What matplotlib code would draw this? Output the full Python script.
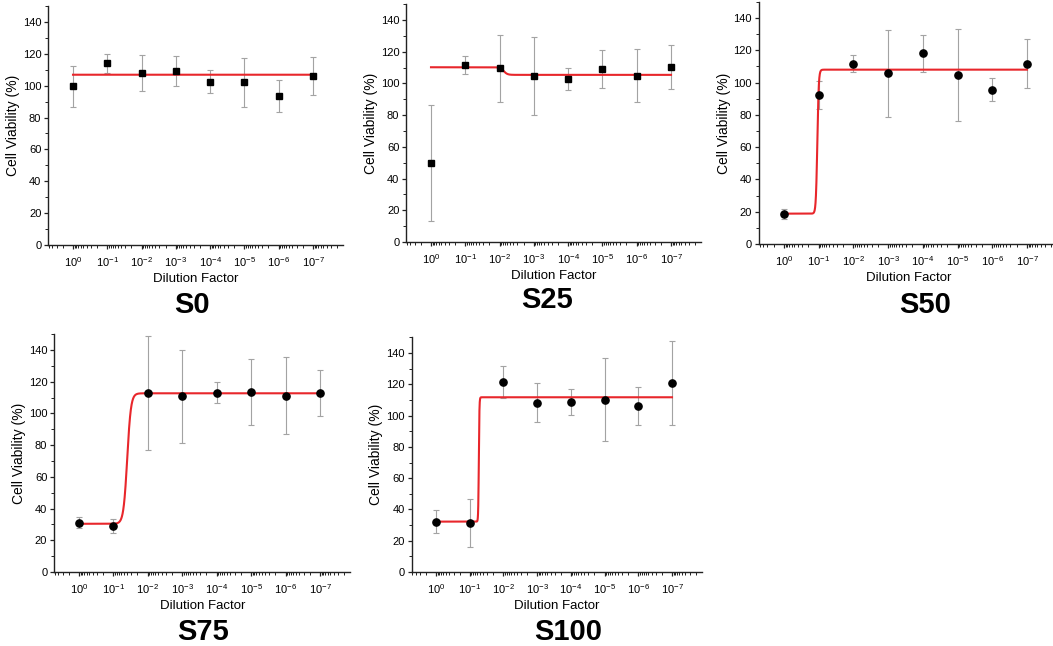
import numpy as np
import matplotlib
matplotlib.use("Agg")
import matplotlib.pyplot as plt
from matplotlib.ticker import FixedLocator, FixedFormatter, LogLocator, MultipleLocator, NullFormatter

plt.rcParams['font.family'] = ['Liberation Sans', 'DejaVu Sans']
plt.rcParams['mathtext.fontset'] = 'custom'
plt.rcParams['mathtext.rm'] = 'Liberation Sans'
plt.rcParams['mathtext.it'] = 'Liberation Sans'
plt.rcParams['axes.unicode_minus'] = False

# ---- data ----
dilution = [1e0, 1e-1, 1e-2, 1e-3, 1e-4, 1e-5, 1e-6, 1e-7]
x_tick_labels = [r'$\mathdefault{10^{0}}$', r'$\mathdefault{10^{-1}}$', r'$\mathdefault{10^{-2}}$',
                 r'$\mathdefault{10^{-3}}$', r'$\mathdefault{10^{-4}}$', r'$\mathdefault{10^{-5}}$',
                 r'$\mathdefault{10^{-6}}$', r'$\mathdefault{10^{-7}}$']
y_ticks = [0, 20, 40, 60, 80, 100, 120, 140]
panel_names = ['S0', 'S25', 'S50', 'S75', 'S100']

s0_mean = [99.6, 114.0, 108.0, 109.2, 102.5, 102.1, 93.5, 106.3]
s0_err = [13.0, 5.8, 11.2, 9.6, 7.2, 15.5, 10.3, 11.9]
s25_mean = [49.7, 111.9, 109.6, 104.5, 102.9, 108.9, 105.0, 110.4]
s25_err = [36.5, 5.7, 21.0, 24.5, 6.8, 12.0, 16.7, 14.0]
s50_mean = [18.6, 92.1, 111.7, 105.7, 118.1, 104.9, 95.6, 111.7]
s50_err = [3.1, 8.6, 5.1, 27.0, 11.3, 28.5, 7.0, 15.3]
s75_mean = [31.1, 29.0, 112.7, 110.8, 113.1, 113.4, 111.3, 112.7]
s75_err = [3.4, 4.6, 36.0, 29.2, 6.8, 21.0, 24.0, 14.5]
s100_mean = [32.2, 31.3, 121.7, 108.2, 108.7, 110.0, 106.1, 120.8]
s100_err = [7.2, 15.2, 10.3, 12.6, 8.6, 26.5, 12.0, 26.9]

# dose-response fit parameters: (value at high conc., value at low conc., log10 midpoint, hill slope)
s0_fit = (106.9, 106.9, -3.0, 1.0)
s25_fit = (110.2, 105.4, -2.12, 8.0)
s50_fit = (18.8, 108.0, -0.96, 21.0)
s75_fit = (30.4, 112.7, -1.40, 8.0)
s100_fit = (32.2, 111.7, -1.27, 50.0)

means = [s0_mean, s25_mean, s50_mean, s75_mean, s100_mean]
errs = [s0_err, s25_err, s50_err, s75_err, s100_err]
fits = [s0_fit, s25_fit, s50_fit, s75_fit, s100_fit]
markers = ['s', 's', 'o', 'o', 'o']

# ---- layout (pixels): x of 10^0, x of 10^-7, y of 0, y of 140 ----
W, H = 1053, 646
ref_px = [(73, 313, 245, 22), (431, 671, 242, 20), (784, 1027, 244, 18),
          (79, 320, 572, 350), (436, 672, 572, 353)]
title_px = [(192, 305), (547, 300), (925, 305), (203, 632), (568, 632)]
XL, XR = 0.72, -7.88  # log10 x-limits
YTOP = 150

fig = plt.figure(figsize=(W / 100, H / 100), dpi=100)

for i in range(5):
    x0, x7, y0, y140 = ref_px[i]
    d = (x7 - x0) / 7.0
    left = x0 - XL * d
    right = x7 + (-XR - 7) * d
    u = (y0 - y140) / 140.0
    top = y0 - YTOP * u
    ax = fig.add_axes([left / W, 1 - y0 / H, (right - left) / W, (y0 - top) / H])

    ax.errorbar(dilution, means[i], yerr=errs[i], fmt='none', ecolor='#a3a3a3',
                elinewidth=0.8, capsize=2.2, capthick=0.8, zorder=1)
    lo, hi, lc, h = fits[i]
    xs = np.logspace(0, -7, 3000)
    ys = lo + (hi - lo) / (1 + 10 ** ((np.log10(xs) - lc) * h))
    ax.plot(xs, ys, color='#e8262b', lw=1.5, zorder=2)
    ax.plot(dilution, means[i], linestyle='none', marker=markers[i], color='black',
            markersize=4.6 if markers[i] == 's' else 5.2, zorder=3)

    ax.set_xscale('log')
    ax.set_xlim(10 ** XL, 10 ** XR)
    ax.set_ylim(0, YTOP)
    ax.xaxis.set_major_locator(FixedLocator(dilution))
    ax.xaxis.set_major_formatter(FixedFormatter(x_tick_labels))
    ax.xaxis.set_minor_locator(LogLocator(base=10, subs=np.arange(2, 10), numticks=30))
    ax.xaxis.set_minor_formatter(NullFormatter())
    ax.yaxis.set_major_locator(FixedLocator(y_ticks))
    ax.yaxis.set_minor_locator(MultipleLocator(10))

    for s in ['top', 'right']:
        ax.spines[s].set_visible(False)
    for s in ['left', 'bottom']:
        ax.spines[s].set_linewidth(1.0)
        ax.spines[s].set_color('#222222')
    ax.tick_params(which='major', direction='out', length=3, width=0.9, color='#222222',
                   labelsize=8, pad=2)
    ax.tick_params(which='minor', direction='out', length=2, width=0.7, color='#222222')
    ax.tick_params(axis='x', which='major', labelsize=8, pad=4)

    ax.set_xlabel('Dilution Factor', fontsize=9.5, labelpad=3)
    ax.set_ylabel('Cell Viability (%)', fontsize=10, labelpad=2)

    tx, ty = title_px[i]
    fig.text(tx / W, 1 - ty / H, panel_names[i], fontsize=21, fontweight='bold',
             ha='center', va='center')

fig.savefig('out.png', dpi=100)
